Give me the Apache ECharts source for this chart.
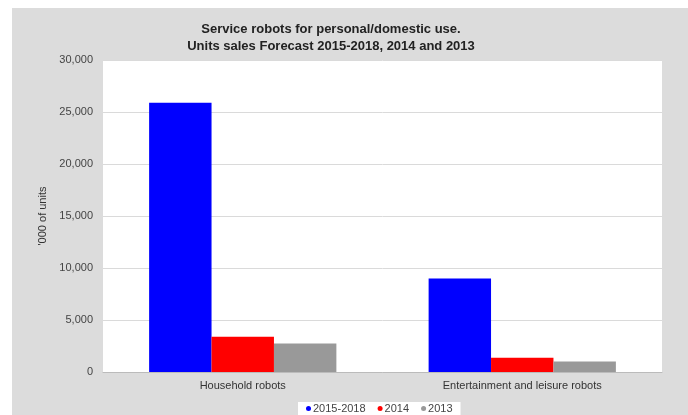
<!DOCTYPE html>
<html><head><meta charset="utf-8">
<script src="https://cdn.jsdelivr.net/npm/echarts@6/dist/echarts.min.js"></script>
<style>
html,body{margin:0;padding:0;background:#fff;width:688px;height:415px;overflow:hidden;}
#c{position:absolute;left:12px;top:8px;width:676px;height:407px;background:#dcdcdc;}
</style></head>
<body><div id="c"></div>
<script>
const categories = ["Household robots", "Entertainment and leisure robots"];
const seriesNames = ["2015-2018", "2014", "2013"];
const values2015_2018 = [25900, 9000];
const values2014 = [3400, 1370];
const values2013 = [2750, 1000];
const yTicks = [0, 5000, 10000, 15000, 20000, 25000, 30000];
const colors = ["#0000ff", "#ff0000", "#999999"];

const chart = echarts.init(document.getElementById('c'));
const fmt = v => v.toLocaleString('en-US');
chart.setOption({
  animation: false,
  textStyle: { fontFamily: 'Liberation Sans, Arial, sans-serif' },
  title: {
    text: 'Service robots for personal/domestic use.\nUnits sales Forecast 2015-2018, 2014 and 2013',
    left: 314, top: 8, textAlign: 'center',
    textStyle: { fontSize: 13, fontWeight: 'bold', color: '#222', lineHeight: 17 }
  },
  legend: {
    data: seriesNames,
    top: 394, left: 286,
    backgroundColor: '#fff',
    padding: [1, 8, 1, 8],
    itemWidth: 5, itemHeight: 5, itemGap: 12,
    icon: 'circle',
    textStyle: { fontSize: 11, color: '#444', padding: [0,0,0,-3] }
  },
  grid: { left: 91, top: 52, right: 26, bottom: 43, show: true, backgroundColor: '#fff', borderWidth: 0 },
  xAxis: {
    type: 'category', data: categories,
    axisTick: { show: false },
    axisLine: { lineStyle: { color: '#bbb' } },
    axisLabel: { fontSize: 11, color: '#333', margin: 8 }
  },
  yAxis: {
    type: 'value', min: yTicks[0], max: yTicks[yTicks.length-1], interval: 5000,
    name: "'000 of units", nameLocation: 'middle', nameGap: 49,
    nameTextStyle: { fontSize: 11, color: '#333' },
    axisLabel: { fontSize: 11, color: '#444', formatter: fmt, margin: 10 },
    axisLine: { show: false }, axisTick: { show: false },
    splitLine: { lineStyle: { color: '#dadada', width: 1 } }
  },
  series: [
    { name: seriesNames[0], type: 'bar', data: values2015_2018, itemStyle: { color: colors[0] }, barGap: '0%', barCategoryGap: '33%' },
    { name: seriesNames[1], type: 'bar', data: values2014, itemStyle: { color: colors[1] }, barGap: '0%', barCategoryGap: '33%' },
    { name: seriesNames[2], type: 'bar', data: values2013, itemStyle: { color: colors[2] }, barGap: '0%', barCategoryGap: '33%' }
  ]
});
</script></body></html>
